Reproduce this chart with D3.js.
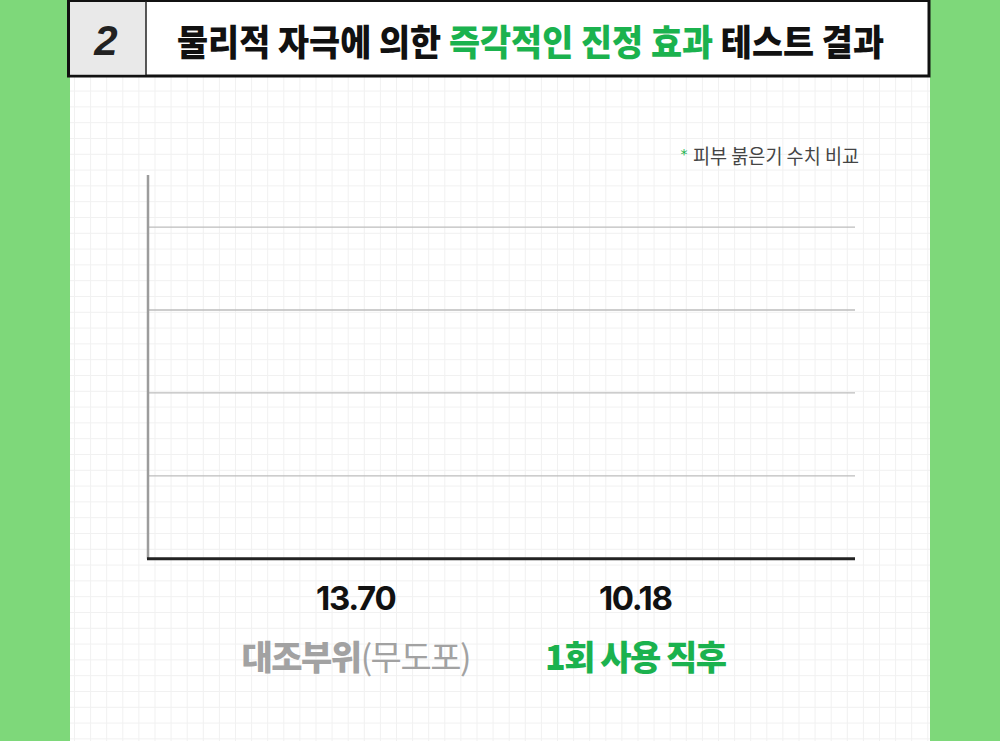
<!DOCTYPE html>
<html><head><meta charset="utf-8">
<script src="https://cdn.jsdelivr.net/npm/d3@7/dist/d3.min.js"></script>
<style>html,body{margin:0;padding:0;background:#7ed87a;}svg{display:block;}</style>
</head><body>
<script>
// ---- data ----
const categories = ["대조부위", "1회 사용 직후"];
const categorySuffix = ["(무도포)", ""];
const values = [13.70, 10.18];
const valueLabels = ["13.70", "10.18"];
const gridTicks = [3.5, 7, 10.5, 14];
const titleParts = [
  {t: "물리적 자극에 의한 ", green: false},
  {t: "즉각적인 진정 효과", green: true},
  {t: " 테스트 결과", green: false}
];
const stepNumber = "2";
const note = "피부 붉은기 수치 비교";

const W = 1000, H = 741;
const GREEN = "#1bb24e";
const KR = "'Noto Sans CJK KR','Noto Sans',sans-serif";

const svg = d3.select("body").append("svg").attr("width", W).attr("height", H);

// background
svg.append("rect").attr("width", W).attr("height", H).attr("fill", "#7ed87a");
svg.append("rect").attr("x", 70).attr("y", 0).attr("width", 860).attr("height", H).attr("fill", "#ffffff");

// paper grid
const bg = svg.append("g").attr("stroke", "#f1f1f1").attr("stroke-width", 1);
d3.range(-6, 60).map(k => 155 + 16.1 * k).filter(x => x > 70 && x < 930).forEach(x =>
  bg.append("line").attr("x1", x).attr("x2", x).attr("y1", 76).attr("y2", H));
d3.range(-10, 40).map(k => 201.7 + 15.8 * k).filter(y => y > 76 && y < H).forEach(y =>
  bg.append("line").attr("x1", 70).attr("x2", 930).attr("y1", y).attr("y2", y));

// title box
svg.append("rect").attr("x", 68.5).attr("y", 0.5).attr("width", 860.5).attr("height", 75.5)
  .attr("fill", "#fff").attr("stroke", "#111").attr("stroke-width", 3);
svg.append("rect").attr("x", 70).attr("y", 2).attr("width", 76).attr("height", 72.5).attr("fill", "#e9e9e9");
svg.append("line").attr("x1", 146).attr("x2", 146).attr("y1", 1).attr("y2", 75).attr("stroke", "#222").attr("stroke-width", 1.5);
svg.append("text").attr("x", 106).attr("y", 55).attr("text-anchor", "middle")
  .attr("font-family", "'Liberation Sans',Arial,sans-serif").attr("font-weight", 700).attr("font-style", "italic")
  .attr("font-size", 42).attr("fill", "#222").text(stepNumber);
const title = svg.append("text").attr("x", 177).attr("y", 40).attr("dominant-baseline", "central")
  .attr("font-family", KR).attr("font-weight", 900).attr("font-size", 36)
  .attr("textLength", 707).attr("lengthAdjust", "spacingAndGlyphs");
titleParts.forEach(p => title.append("tspan").attr("fill", p.green ? GREEN : "#111").text(p.t));

// note
svg.append("text").attr("x", 684).attr("y", 159).attr("text-anchor", "middle")
  .attr("font-family", "'DejaVu Sans',sans-serif").attr("font-size", 14).attr("fill", GREEN).text("*");
svg.append("text").attr("x", 693).attr("y", 155.5).attr("dominant-baseline", "central")
  .attr("font-family", KR).attr("font-size", 20).attr("fill", "#444")
  .attr("textLength", 166).attr("lengthAdjust", "spacingAndGlyphs").text(note);

// chart
const m = {left: 148, right: 855, top: 175, bottom: 558.7};
const x = d3.scaleBand().domain(categories).range([188, 803]).padding(0.2);
const y = d3.scaleLinear().domain([0, 16.2]).range([m.bottom, m.top]);

svg.append("g").selectAll("line").data(gridTicks).join("line")
  .attr("x1", m.left).attr("x2", m.right)
  .attr("y1", d => y(d)).attr("y2", d => y(d))
  .attr("stroke", "#bdbdbd").attr("stroke-width", 1.3);

svg.append("line").attr("x1", m.left).attr("x2", m.left).attr("y1", y(16.2)).attr("y2", m.bottom)
  .attr("stroke", "#9c9c9c").attr("stroke-width", 2.5);
svg.append("line").attr("x1", m.left - 1).attr("x2", m.right).attr("y1", m.bottom).attr("y2", m.bottom)
  .attr("stroke", "#222").attr("stroke-width", 3);

// value labels
svg.append("g").selectAll("text").data(values).join("text")
  .attr("x", (d, i) => x(categories[i]) + x.bandwidth() / 2)
  .attr("y", 598).attr("dominant-baseline", "central").attr("text-anchor", "middle")
  .attr("font-family", "Inter,'Noto Sans',sans-serif").attr("font-weight", 700).attr("font-size", 33)
  .attr("letter-spacing", -1.3).attr("fill", "#111")
  .text((d, i) => valueLabels[i]);

// category labels
const cat = svg.append("g").selectAll("text").data(categories).join("text")
  .attr("x", (d, i) => x(d) + x.bandwidth() / 2)
  .attr("y", 655).attr("dominant-baseline", "central").attr("text-anchor", "middle")
  .attr("font-family", KR).attr("font-size", 34).attr("letter-spacing", -1.5)
  .attr("fill", (d, i) => i === 0 ? "#a2a2a2" : GREEN);
cat.append("tspan").attr("font-weight", 900).text(d => d);
cat.append("tspan").attr("font-weight", 400).text((d, i) => categorySuffix[i]);
</script>
</body></html>
